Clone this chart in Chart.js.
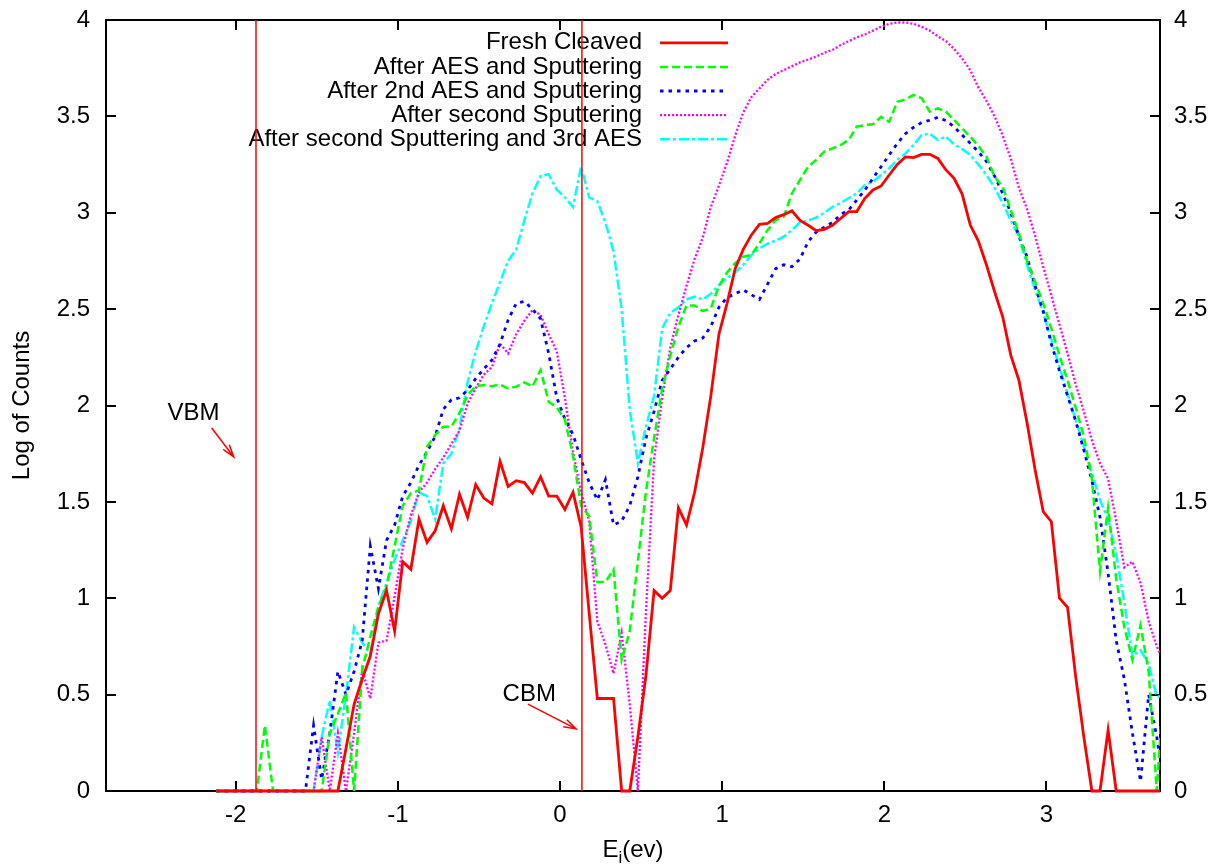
<!DOCTYPE html>
<html>
<head>
<meta charset="utf-8">
<title>Log of Counts vs E_i</title>
<script src="https://cdn.jsdelivr.net/npm/chart.js@4.4.0/dist/chart.umd.min.js"></script>
<style>
  html, body { margin: 0; padding: 0; background: #fff; }
</style>
</head>
<body>
<canvas id="countsChart" width="1225" height="865"></canvas>
<script>
// Energy grid (eV)
const energy = [
  -2.12, -2.07, -2.02, -1.97, -1.92, -1.87, -1.82, -1.77, -1.72, -1.67,
  -1.62, -1.57, -1.52, -1.47, -1.42, -1.37, -1.32, -1.27, -1.22, -1.17,
  -1.12, -1.07, -1.02, -0.97, -0.92, -0.87, -0.82, -0.77, -0.72, -0.67,
  -0.62, -0.57, -0.52, -0.47, -0.42, -0.37, -0.32, -0.27, -0.22, -0.17,
  -0.12, -0.07, -0.02, 0.03, 0.08, 0.13, 0.18, 0.23, 0.28, 0.33,
  0.38, 0.43, 0.48, 0.53, 0.58, 0.63, 0.68, 0.73, 0.78, 0.83,
  0.88, 0.93, 0.98, 1.03, 1.08, 1.13, 1.18, 1.23, 1.28, 1.33,
  1.38, 1.43, 1.48, 1.53, 1.58, 1.63, 1.68, 1.73, 1.78, 1.83,
  1.88, 1.93, 1.98, 2.03, 2.08, 2.13, 2.18, 2.23, 2.28, 2.33,
  2.38, 2.43, 2.48, 2.53, 2.58, 2.63, 2.68, 2.73, 2.78, 2.83,
  2.88, 2.93, 2.98, 3.03, 3.08, 3.13, 3.18, 3.23, 3.28, 3.33,
  3.38, 3.43, 3.48, 3.53, 3.58, 3.63, 3.68, 3.73
];

const freshCleaved = [
  0, 0, 0, 0, 0, 0, 0, 0, 0, 0,
  0, 0, 0, 0, 0, 0, 0.22, 0.45, 0.58, 0.70,
  0.92, 1.04, 0.83, 1.19, 1.15, 1.41, 1.29, 1.35, 1.48, 1.36,
  1.54, 1.42, 1.59, 1.52, 1.49, 1.71, 1.58, 1.61, 1.60, 1.545,
  1.63, 1.53, 1.53, 1.46, 1.55, 1.37, 0.92, 0.48, 0.48, 0.48,
  0, 0, 0.28, 0.60, 1.04, 1.00, 1.04, 1.47, 1.38, 1.55,
  1.78, 2.05, 2.37, 2.53, 2.71, 2.81, 2.885, 2.94, 2.945, 2.975,
  2.99, 3.01, 2.96, 2.935, 2.907, 2.914, 2.935, 2.97, 3.006, 3.006,
  3.075, 3.118, 3.139, 3.196, 3.251, 3.29, 3.286, 3.303, 3.303, 3.282,
  3.222, 3.179, 3.097, 2.936, 2.853, 2.729, 2.59, 2.46, 2.26, 2.13,
  1.91, 1.665, 1.449, 1.397, 1.0, 0.953, 0.593, 0.282, 0, 0,
  0.316, 0, 0, 0, 0, 0, 0, 0
];

const afterAes = [
  0, 0, 0, 0, 0, 0, 0.34, 0, 0, 0,
  0, 0, 0, 0, 0.30, 0.40, 0.51, 0, 0.63, 0.80,
  0.956, 1.06, 1.27, 1.48, 1.545, 1.56, 1.786, 1.847, 1.89, 1.89,
  1.96, 2.054, 2.10, 2.106, 2.10, 2.109, 2.088, 2.098, 2.12, 2.098,
  2.184, 2.02, 1.99, 1.927, 1.74, 1.48, 1.425, 1.084, 1.084, 1.149,
  0.68, 0.83, 1.19, 1.554, 1.831, 2.088, 2.258, 2.408, 2.519, 2.519,
  2.49, 2.504, 2.62, 2.69, 2.738, 2.772, 2.781, 2.841, 2.91, 2.962,
  2.98, 3.10, 3.17, 3.239, 3.274, 3.317, 3.334, 3.351, 3.377, 3.447,
  3.455, 3.459, 3.498, 3.472, 3.576, 3.588, 3.611, 3.594, 3.524, 3.542,
  3.524, 3.481, 3.438, 3.395, 3.346, 3.291, 3.187, 3.135, 3.014, 2.893,
  2.75, 2.64, 2.53, 2.40, 2.26, 2.13, 1.99, 1.84, 1.62, 1.14,
  1.47, 1.10, 0.85, 0.68, 0.86, 0.62, 0, 0.65
];

const after2ndAes = [
  0, 0, 0, 0, 0, 0, 0, 0, 0, 0,
  0, 0, 0.34, 0.06, 0.30, 0.62, 0.50, 0.62, 0.78, 1.27,
  1.05, 1.30, 1.38, 1.53, 1.60, 1.69, 1.76, 1.84, 1.98, 2.03,
  2.04, 2.08, 2.14, 2.19, 2.236, 2.32, 2.444, 2.53, 2.54, 2.50,
  2.45, 2.27, 2.04, 1.93, 1.85, 1.72, 1.60, 1.51, 1.615, 1.38,
  1.40, 1.48, 1.63, 1.83, 1.97, 2.13, 2.19, 2.25, 2.30, 2.335,
  2.35, 2.41, 2.51, 2.56, 2.58, 2.60, 2.575, 2.55, 2.63, 2.71,
  2.73, 2.72, 2.76, 2.85, 2.90, 2.925, 2.95, 2.99, 3.014, 3.066,
  3.118, 3.179, 3.239, 3.30, 3.36, 3.41, 3.443, 3.468, 3.48, 3.495,
  3.478, 3.446, 3.403, 3.36, 3.317, 3.265, 3.19, 3.10, 3.00, 2.88,
  2.77, 2.62, 2.49, 2.32, 2.18, 2.05, 1.92, 1.77, 1.61, 1.42,
  1.13, 0.78, 0.58, 0.30, 0.05, 0.50, 0.28, 0
];

const afterSecondSputter = [
  0, 0, 0, 0, 0, 0, 0, 0, 0, 0,
  0, 0, 0, 0.28, 0, 0.30, 0, 0.30, 0.63, 0.48,
  0.77, 0.78, 1.01, 1.26, 1.43, 1.55, 1.60, 1.67, 1.73, 1.80,
  1.87, 2.01, 2.09, 2.16, 2.20, 2.32, 2.27, 2.37, 2.44, 2.495,
  2.47, 2.37, 2.28, 2.04, 1.76, 1.55, 1.40, 0.88, 0.76, 0.61,
  0.82, 0.45, 0, 0.93, 1.72, 2.04, 2.30, 2.47, 2.62, 2.76,
  2.87, 3.03, 3.14, 3.26, 3.40, 3.52, 3.60, 3.645, 3.69, 3.72,
  3.74, 3.76, 3.78, 3.795, 3.81, 3.83, 3.845, 3.87, 3.89, 3.91,
  3.925, 3.945, 3.965, 3.98, 3.987, 3.987, 3.98, 3.965, 3.945, 3.915,
  3.89, 3.85, 3.80, 3.74, 3.65, 3.58, 3.50, 3.40, 3.28, 3.13,
  3.02, 2.88, 2.72, 2.57, 2.42, 2.27, 2.11, 1.97, 1.82, 1.70,
  1.62, 1.40, 1.16, 1.19, 1.08, 0.88, 0.75, 0.66
];

const after3rdAes = [
  0, 0, 0, 0, 0, 0, 0, 0, 0, 0,
  0, 0, 0, 0.28, 0.47, 0.20, 0.50, 0.85, 0.77, 0.71,
  0.96, 1.08, 1.20, 1.30, 1.40, 1.55, 1.53, 1.41, 1.70, 1.75,
  1.88, 2.12, 2.28, 2.41, 2.53, 2.64, 2.75, 2.81, 2.96, 3.10,
  3.19, 3.20, 3.12, 3.08, 3.03, 3.24, 3.08, 3.06, 2.95, 2.80,
  2.50, 1.98, 1.70, 1.89, 2.05, 2.40, 2.48, 2.51, 2.55, 2.565,
  2.55, 2.58, 2.625, 2.66, 2.69, 2.73, 2.78, 2.815, 2.84, 2.855,
  2.876, 2.91, 2.95, 2.96, 2.975, 3.00, 3.03, 3.05, 3.075, 3.10,
  3.144, 3.161, 3.196, 3.231, 3.274, 3.308, 3.351, 3.403, 3.41, 3.377,
  3.395, 3.355, 3.33, 3.30, 3.25, 3.195, 3.13, 3.05, 2.96, 2.876,
  2.73, 2.60, 2.48, 2.34, 2.20, 2.06, 1.925, 1.79, 1.65, 1.51,
  1.41, 1.23, 0.98, 0.70, 0.73, 0.66, 0.49, 0.49
];

const xTicks = [-2, -1, 0, 1, 2, 3];
const yTicks = [0, 0.5, 1, 1.5, 2, 2.5, 3, 3.5, 4];

// band edges (eV) and their labels
const bandEdges = [-1.875, 0.135];
const bandNotes = [
  { text: "VBM", at: [-2.26, 1.96], from: [-2.148, 1.883], to: [-2.012, 1.733] },
  { text: "CBM", at: [-0.19, 0.50], from: [-0.198, 0.451], to: [0.099, 0.322] }
];

const FONT = "'Liberation Sans', Arial, Helvetica, sans-serif";
const FONT_SIZE = 24;
Chart.defaults.font.family = FONT;
Chart.defaults.font.size = FONT_SIZE;
Chart.defaults.color = "#000";

const series = [
  { label: "Fresh Cleaved", values: freshCleaved, color: "#ff0000", dash: [], width: 2.8 },
  { label: "After AES and Sputtering", values: afterAes, color: "#00ff00", dash: [8, 4], width: 2.5 },
  { label: "After 2nd AES and Sputtering", values: after2ndAes, color: "#0000ff", dash: [3.5, 5], width: 2.8 },
  { label: "After second Sputtering", values: afterSecondSputter, color: "#ff00ff", dash: [2, 2], width: 2.3 },
  { label: "After second Sputtering and 3rd AES", values: after3rdAes, color: "#00ffff", dash: [10, 3, 3, 3], width: 2.5 }
];

// drop the extra room chart.js keeps for half tick labels
const noScalePadding = (scale) => {
  scale.paddingTop = 0;
  scale.paddingBottom = 0;
  scale.paddingLeft = 0;
  scale.paddingRight = 0;
};

// gnuplot style frame with inward ticks on all four sides
const framePlugin = {
  id: "frame",
  beforeDatasetsDraw(chart) {
    const { ctx, chartArea: a, scales } = chart;
    ctx.save();
    ctx.strokeStyle = "#000";
    ctx.lineWidth = 2;
    ctx.strokeRect(a.left, a.top, a.right - a.left, a.bottom - a.top);
    ctx.beginPath();
    xTicks.forEach((v) => {
      const px = Math.round(scales.x.getPixelForValue(v));
      ctx.moveTo(px, a.bottom); ctx.lineTo(px, a.bottom - 10);
      ctx.moveTo(px, a.top); ctx.lineTo(px, a.top + 10);
    });
    yTicks.forEach((v) => {
      const py = Math.round(scales.y.getPixelForValue(v));
      ctx.moveTo(a.left, py); ctx.lineTo(a.left + 10, py);
      ctx.moveTo(a.right, py); ctx.lineTo(a.right - 10, py);
    });
    ctx.stroke();

    // key, top right: text right-aligned, then a line sample
    ctx.font = FONT_SIZE + "px " + FONT;
    ctx.textAlign = "right";
    ctx.textBaseline = "middle";
    series.forEach((s, i) => {
      const y = a.top + 22.8 + i * 24.1;
      ctx.fillStyle = "#000";
      ctx.fillText(s.label, 642, y);
      ctx.beginPath();
      ctx.strokeStyle = s.color;
      ctx.lineWidth = s.width;
      ctx.setLineDash(s.dash);
      ctx.moveTo(660, y);
      ctx.lineTo(728, y);
      ctx.stroke();
    });
    ctx.restore();
  },
  afterDatasetsDraw(chart) {
    const { ctx, chartArea: a, scales } = chart;
    const xs = scales.x, ys = scales.y;
    ctx.save();
    ctx.strokeStyle = "#ff0000";
    ctx.lineWidth = 1.5;
    bandEdges.forEach((e) => {
      const px = xs.getPixelForValue(e);
      ctx.beginPath();
      ctx.moveTo(px, a.top);
      ctx.lineTo(px, a.bottom);
      ctx.stroke();
    });

    ctx.font = FONT_SIZE + "px " + FONT;
    ctx.textAlign = "center";
    ctx.textBaseline = "middle";
    bandNotes.forEach((n) => {
      ctx.fillStyle = "#000";
      ctx.fillText(n.text, xs.getPixelForValue(n.at[0]), ys.getPixelForValue(n.at[1]));
      const x0 = xs.getPixelForValue(n.from[0]), y0 = ys.getPixelForValue(n.from[1]);
      const x1 = xs.getPixelForValue(n.to[0]), y1 = ys.getPixelForValue(n.to[1]);
      const ang = Math.atan2(y1 - y0, x1 - x0);
      const head = 13, spread = 0.3;
      ctx.beginPath();
      ctx.moveTo(x0, y0);
      ctx.lineTo(x1, y1);
      ctx.moveTo(x1 - head * Math.cos(ang - spread), y1 - head * Math.sin(ang - spread));
      ctx.lineTo(x1, y1);
      ctx.lineTo(x1 - head * Math.cos(ang + spread), y1 - head * Math.sin(ang + spread));
      ctx.stroke();
    });
    ctx.restore();
  },
  afterDraw(chart) {
    // x axis title with subscript i
    const { ctx, chartArea: a } = chart;
    const cx = (a.left + a.right) / 2;
    const base = 857;
    ctx.save();
    ctx.fillStyle = "#000";
    ctx.textBaseline = "alphabetic";
    ctx.textAlign = "left";
    const big = FONT_SIZE + "px " + FONT, small = "17px " + FONT;
    ctx.font = big;
    const wE = ctx.measureText("E").width;
    const wRest = ctx.measureText("(ev)").width;
    ctx.font = small;
    const wI = ctx.measureText("i").width;
    let x = cx - (wE + wI + wRest) / 2;
    ctx.font = big;
    ctx.fillText("E", x, base);
    x += wE;
    ctx.font = small;
    ctx.fillText("i", x, base + 6);
    x += wI;
    ctx.font = big;
    ctx.fillText("(ev)", x, base);
    ctx.restore();
  }
};

const ctx = document.getElementById("countsChart").getContext("2d");

new Chart(ctx, {
  type: "line",
  data: {
    datasets: series.map((s) => ({
      label: s.label,
      data: energy.map((e, i) => ({ x: e, y: s.values[i] })),
      borderColor: s.color,
      borderWidth: s.width,
      borderDash: s.dash,
      pointRadius: 0,
      tension: 0,
      fill: false,
      clip: { left: 0, top: 0, right: 0, bottom: 3 }
    }))
  },
  options: {
    responsive: false,
    animation: false,
    layout: { padding: { top: 20, left: 0, right: 0, bottom: 0 } },
    plugins: {
      legend: { display: false },
      tooltip: { enabled: false }
    },
    scales: {
      x: {
        type: "linear",
        min: -2.8,
        max: 3.7,
        afterBuildTicks: (scale) => { scale.ticks = xTicks.map((v) => ({ value: v })); },
        afterFit: (scale) => { scale.height = 74; noScalePadding(scale); },
        grid: { display: false, drawTicks: false },
        border: { display: false },
        ticks: { padding: 10, callback: (v) => String(v) }
      },
      y: {
        position: "left",
        min: 0,
        max: 4,
        afterBuildTicks: (scale) => { scale.ticks = yTicks.map((v) => ({ value: v })); },
        afterFit: (scale) => { scale.width = 106; noScalePadding(scale); },
        grid: { display: false, drawTicks: false },
        border: { display: false },
        ticks: { padding: 16, callback: (v) => String(v) },
        title: { display: true, text: "Log of Counts", padding: { top: 7.6, bottom: 0 } }
      },
      y2: {
        axis: "y",
        position: "right",
        min: 0,
        max: 4,
        afterBuildTicks: (scale) => { scale.ticks = yTicks.map((v) => ({ value: v })); },
        afterFit: (scale) => { scale.width = 65; noScalePadding(scale); },
        grid: { display: false, drawTicks: false },
        border: { display: false },
        ticks: { padding: 14, callback: (v) => String(v) }
      }
    }
  },
  plugins: [framePlugin]
});
</script>
</body>
</html>
